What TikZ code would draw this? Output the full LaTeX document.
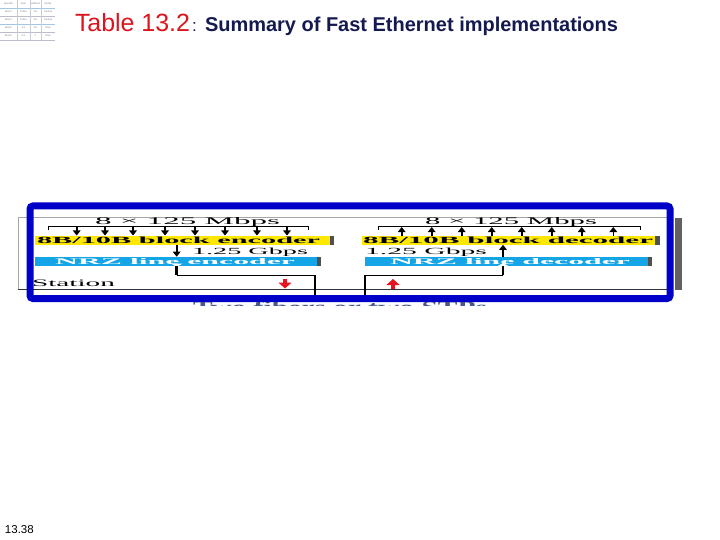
\documentclass[tikz,border=0pt]{standalone}
\usepackage{fontspec}
\setmainfont{Liberation Serif}
\newfontfamily\arialf{Liberation Sans}
\usetikzlibrary{arrows.meta}
\definecolor{frameblue}{RGB}{0,0,200}
\definecolor{titlered}{RGB}{220,20,30}
\definecolor{navy}{RGB}{20,25,80}
\definecolor{boxyellow}{RGB}{255,232,0}
\definecolor{boxblue}{RGB}{20,165,230}
\definecolor{shadowgray}{RGB}{80,80,80}
\definecolor{arrowred}{RGB}{230,20,30}
\definecolor{captgray}{RGB}{75,90,140}
\definecolor{tabgray}{RGB}{120,125,150}
\definecolor{tabblue}{RGB}{160,200,230}
\newcommand{\stx}[3]{\resizebox{#1pt}{#2pt}{#3}}
\tikzset{
  lbl/.style={anchor=base west,inner sep=0pt,outer sep=0pt},
  yelbox/.style={fill=boxyellow},
  bluebox/.style={fill=boxblue},
  shadowbox/.style={fill=shadowgray},
  bitarrow/.style={-{Triangle[width=7.5pt,length=5pt]},line width=1.6pt,black},
  redarrow/.style={-{Triangle[width=13pt,length=6pt]},line width=3.5pt,arrowred},
  thickwire/.style={line width=2.8pt,black},
  thinwire/.style={line width=0.9pt,black},
  tabtxt/.style={inner sep=0pt,font=\arialf\fontsize{2.4}{2.6}\selectfont,text=tabgray},
}
\begin{document}
\begin{tikzpicture}[x=1pt,y=-1pt]
\useasboundingbox[fill=white] (0,0) rectangle (720,540);

% ---- tiny table thumbnail
\foreach \yy in {8,16,32,40} \draw[tabgray!50,line width=0.3pt] (0,\yy) -- (55,\yy);
\draw[tabblue,line width=0.6pt] (0,24) -- (55,24);
\draw[tabblue,line width=0.6pt] (0,8) -- (55,8);
\foreach \xx in {17,30,41} \draw[tabgray!40,line width=0.3pt] (\xx,0) -- (\xx,40);
\node[tabtxt] (c00) at (8.5,4) {Specifier};
\node[tabtxt] (c01) at (23.5,4) {Rate};
\node[tabtxt] (c02) at (35.5,4) {Half/Full};
\node[tabtxt] (c03) at (48,4) {Media};
\node[tabtxt] (c10) at (8.5,12) {BaseT};
\node[tabtxt] (c11) at (23.5,12) {100bs};
\node[tabtxt] (c12) at (35.5,12) {Yes};
\node[tabtxt] (c13) at (48,12) {Twisted};
\node[tabtxt] (c20) at (8.5,20) {BaseT};
\node[tabtxt] (c21) at (23.5,20) {100bs};
\node[tabtxt] (c22) at (35.5,20) {No};
\node[tabtxt] (c23) at (48,20) {Twisted};
\node[tabtxt] (c30) at (8.5,28) {BaseF};
\node[tabtxt] (c31) at (23.5,28) {1 G};
\node[tabtxt] (c32) at (35.5,28) {No};
\node[tabtxt] (c33) at (48,28) {Fiber};
\node[tabtxt] (c40) at (8.5,36) {BaseC};
\node[tabtxt] (c41) at (23.5,36) {2 G};
\node[tabtxt] (c42) at (35.5,36) {Y};
\node[tabtxt] (c43) at (48,36) {Fiber};

% ---- title
\node[lbl] (ttab) at (75,32) {\resizebox{115pt}{!}{\arialf\color{titlered}Table 13.2}};
\node[lbl] (tcol) at (192,32) {\arialf\fontsize{17}{19}\selectfont\color{navy}:};
\node[lbl] (tsum) at (205,32) {\resizebox{413pt}{!}{\arialf\bfseries\color{navy}Summary of Fast Ethernet implementations}};

% ---- page number
\node[lbl] (pnum) at (5,533) {\arialf\fontsize{11.5}{13}\selectfont 13.38};

% ---- background frame pieces of the picture
\draw[gray!70,line width=0.6pt] (18,217) -- (670,217);
\draw[gray!70,line width=0.8pt] (18,217) -- (18,289);
\fill[shadowgray!90] (675,218) rectangle (682,290);
\draw[black!80,line width=0.8pt] (18,289.5) -- (672,289.5);

% ---- caption below (clipped)
\begin{scope}
\clip (150,299) rectangle (540,305.5);
\node[lbl] (capt) at (193,313) {\color{captgray}\stx{294}{12.5}{\bfseries Two fibers or two STPs}};
\end{scope}

% ================= LEFT (encoder) =================
\coordinate (lA) at (176.7,265.7);
\coordinate (lB) at (176.7,275);
\coordinate (lC) at (315,275);
\coordinate (lD) at (315,302);
\node[lbl] (lrate) at (95,224) {\stx{185}{7}{8 × 125 Mbps}};
\draw[line width=0.8pt] (48,230) -- (48,226.5) -- (308,226.5) -- (308,230);
\fill[shadowgray] (329,236) rectangle (334,245);
\node[yelbox,minimum width=295pt,minimum height=8.6pt,inner sep=0pt,anchor=north west] (lenc) at (35,235.8) {};
\node[lbl] (lenct) at (37,243.3) {\stx{283}{6.5}{\bfseries 8B/10B block encoder}};
\foreach \xx in {76.7,105,133,165,195,225,257,287}
  \draw[bitarrow] (\xx,227) -- (\xx,235.5);
\node[lbl] (lgb) at (192,254.5) {\stx{116}{6.5}{1.25 Gbps}};
\fill[shadowgray] (316,257) rectangle (320.5,266);
\node[bluebox,minimum width=282pt,minimum height=9pt,inner sep=0pt,anchor=north west] (lnrz) at (35,256.7) {};
\node[lbl] (lnrzt) at (55,264) {\color{white}\stx{240}{6}{\bfseries NRZ line encoder}};
\draw[bitarrow] (lA |- lenc.south) -- (lA |- lnrz.north);
\fill[white] (171,263.5) -- (182.5,263.5) -- (176.7,267) -- cycle;
\draw[thickwire] (lA) -- (lB);
\draw[thinwire] (lB) -- (lC);
\draw[thickwire] (lC) -- (lD);
\node[lbl] (lsta) at (32,287) {\stx{83}{6.5}{Station}};
\coordinate (lr1) at (285,279);
\coordinate (lr2) at (285,288.5);
\draw[redarrow] (lr1) -- (lr2);

% ================= RIGHT (decoder) =================
\coordinate (rA) at (503,265.7);
\coordinate (rB) at (503,275);
\coordinate (rC) at (365,275);
\coordinate (rD) at (365,302);
\node[lbl] (rrate) at (425,224) {\stx{172}{7}{8 × 125 Mbps}};
\draw[line width=0.8pt] (378,230) -- (378,226.5) -- (640,226.5) -- (640,230);
\fill[shadowgray] (654,236) rectangle (660,245);
\node[yelbox,minimum width=293pt,minimum height=8.6pt,inner sep=0pt,anchor=north west] (rdec) at (361.7,235.8) {};
\node[lbl] (rdect) at (363,243.3) {\stx{290}{6.5}{\bfseries 8B/10B block decoder}};
\foreach \xx in {401.7,431.7,461.7,491.7,521.7,551.7,581.7,613.3}
  \draw[bitarrow] (\xx,235.8) -- (\xx,227);
\node[lbl] (rgb) at (365,254.5) {\stx{122}{6.5}{1.25 Gbps}};
\fill[shadowgray] (647,257) rectangle (652,266);
\node[bluebox,minimum width=283pt,minimum height=9pt,inner sep=0pt,anchor=north west] (rnrz) at (365,256.7) {};
\node[lbl] (rnrzt) at (390,264) {\color{white}\stx{240}{6}{\bfseries NRZ line decoder}};
\draw[bitarrow] (rA |- rnrz.north) -- (rA |- rdec.south);
\fill[white] (497,266.5) -- (509,266.5) -- (503,263) -- cycle;
\draw[thickwire] (rA) -- (rB);
\draw[thinwire] (rB) -- (rC);
\draw[thickwire] (rC) -- (rD);
\coordinate (rr1) at (393,288.5);
\coordinate (rr2) at (393,279);
\draw[redarrow] (rr1) -- (rr2);

% ---- blue highlight frame
\draw[frameblue,line width=7pt,rounded corners=3pt] (30,206) rectangle (670,298.5);
\end{tikzpicture}
\end{document}
